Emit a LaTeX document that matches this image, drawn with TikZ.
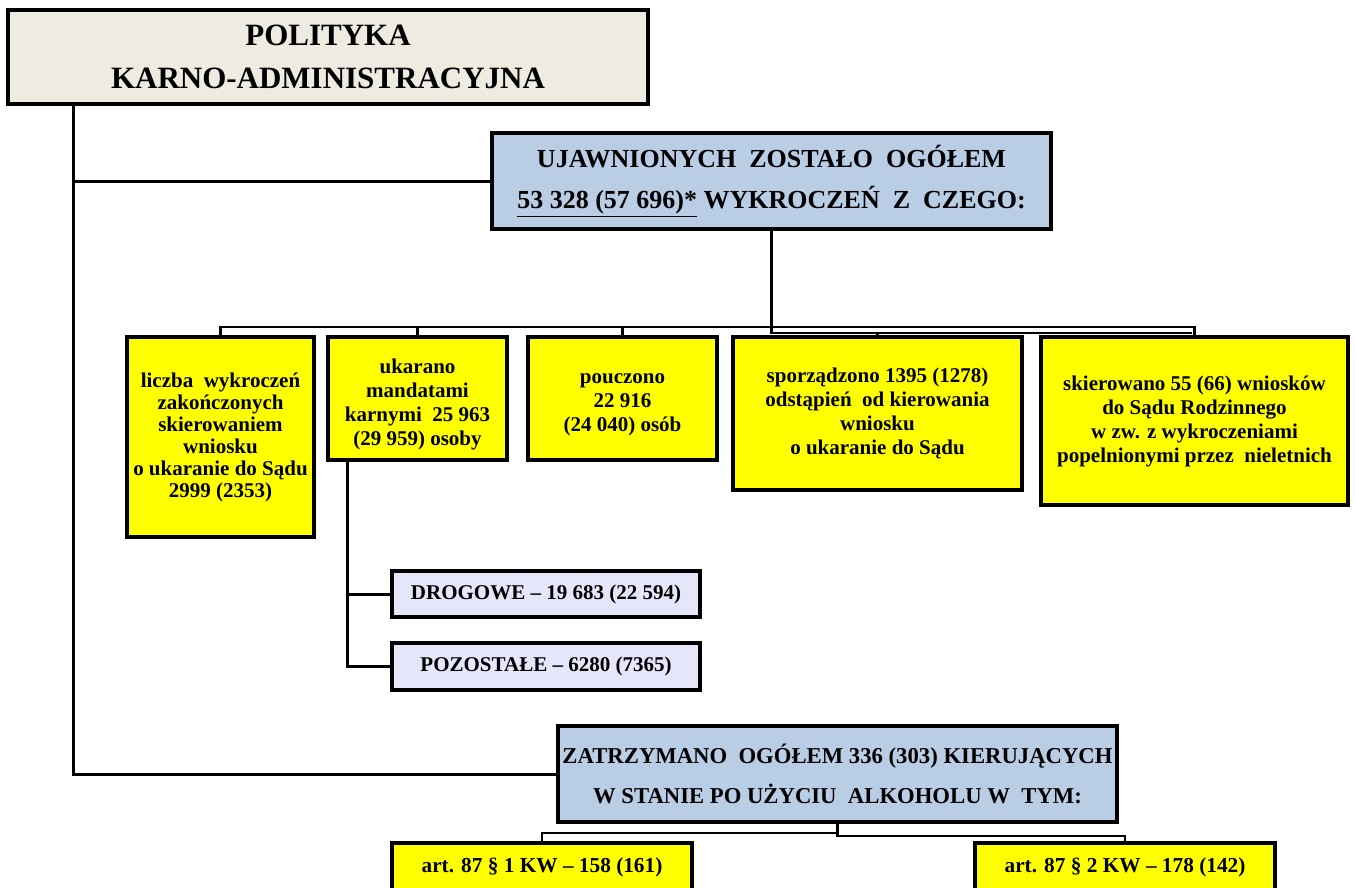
\documentclass[tikz,border=0pt]{standalone}
\usepackage{fontspec}
\setmainfont{Liberation Serif}
\definecolor{titlefill}{RGB}{238,236,225}
\definecolor{bluefill}{RGB}{185,205,229}
\definecolor{yelfill}{RGB}{255,255,0}
\definecolor{lavfill}{RGB}{230,230,250}
\tikzset{
  box/.style={draw=black, line width=3.2pt, inner sep=0pt, outer sep=0pt, align=center, font=\bfseries},
  titlebox/.style={box, fill=titlefill, line width=4pt},
  bluebox/.style={box, fill=bluefill},
  yelbox/.style={box, fill=yelfill},
  lavbox/.style={box, fill=lavfill},
  conn/.style={line width=3pt},
  busline/.style={line width=2.4pt},
}
\begin{document}
\begin{tikzpicture}[x=1pt,y=-1pt]
\useasboundingbox (0,0) rectangle (1355,888);
\fill[white] (0,0) rectangle (1355,888);
% coordinates for connectors
\coordinate (spine) at (73,0);
\coordinate (busA) at (0,327);
\coordinate (busB) at (0,333);
\coordinate (sub) at (347,0);
\coordinate (busC) at (0,833);
\coordinate (busD) at (0,836);

% boxes
\node[titlebox, minimum width=640pt, minimum height=94pt,
  font=\bfseries\fontsize{31}{43}\selectfont] (title) at (328,57)
  {POLITYKA\\KARNO-ADMINISTRACYJNA};
\node[bluebox, minimum width=559pt, minimum height=96pt,
  font=\bfseries\fontsize{26}{41}\selectfont] (u) at (771.5,181)
  {UJAWNIONYCH~ ZOSTAŁO~ OGÓŁEM\\\underline{53 328 (57 696)*}~WYKROCZEŃ~ Z~ CZEGO:};
\node[yelbox, minimum width=187pt, minimum height=200pt,
  font=\bfseries\fontsize{21}{22}\selectfont] (c1) at (220.5,437)
  {liczba~ wykroczeń\\zakończonych\\skierowaniem\\wniosku\\o ukaranie do Sądu\\2999 (2353)};
\node[yelbox, minimum width=179pt, minimum height=123pt,
  font=\bfseries\fontsize{21}{24}\selectfont] (c2) at (417.5,398.5)
  {\rule{0pt}{26pt}ukarano\\mandatami\\karnymi~ 25 963\\(29 959) osoby};
\node[yelbox, minimum width=189pt, minimum height=123pt,
  font=\bfseries\fontsize{21}{24}\selectfont] (c3) at (622.5,398.5)
  {\rule{0pt}{22pt}pouczono\\22 916\\(24 040) osób};
\node[yelbox, minimum width=289pt, minimum height=153pt,
  font=\bfseries\fontsize{21}{24}\selectfont] (c4) at (877.5,413.5)
  {sporządzono 1395 (1278)\\odstąpień~ od kierowania\\wniosku\\o ukaranie do Sądu};
\node[yelbox, minimum width=307pt, minimum height=168pt,
  font=\bfseries\fontsize{21}{24}\selectfont] (c5) at (1194.5,421)
  {skierowano 55 (66) wniosków\\do Sądu Rodzinnego\\w zw. z wykroczeniami\\popelnionymi przez~ nieletnich};
\node[lavbox, minimum width=308pt, minimum height=46pt,
  font=\bfseries\fontsize{21}{24}\selectfont] (d1) at (546,594)
  {DROGOWE – 19 683 (22 594)};
\node[lavbox, minimum width=308pt, minimum height=47pt,
  font=\bfseries\fontsize{21}{24}\selectfont] (d2) at (546,666.5)
  {POZOSTAŁE – 6280 (7365)};
\node[bluebox, minimum width=559pt, minimum height=96pt,
  font=\bfseries\fontsize{22.7}{40}\selectfont] (z) at (837.5,774)
  {ZATRZYMANO~ OGÓŁEM 336 (303) KIERUJĄCYCH\\W STANIE PO UŻYCIU~ ALKOHOLU W~ TYM:};
\node[yelbox, minimum width=300pt, minimum height=48pt,
  font=\bfseries\fontsize{21.3}{24}\selectfont] (b1) at (542,867)
  {art. 87 § 1 KW – 158 (161)};
\node[yelbox, minimum width=300pt, minimum height=48pt,
  font=\bfseries\fontsize{21.3}{24}\selectfont] (b2) at (1125,867)
  {art. 87 § 2 KW – 178 (142)};

% connectors
\draw[conn] (title.south -| spine) |- (z.west);
\draw[conn] (spine |- u.west) -- (u.west);
\draw[conn] (u.south) -- (u.south |- busA);
\draw[busline] (u.south |- busA) -| (c1.north);
\draw[busline] (u.south |- busA) -| (c2.north);
\draw[busline] (u.south |- busA) -| (c3.north);
\draw[busline] (u.south |- busA) -| (c5.north);
\draw[busline] (u.south) -- (u.south |- busB) -| (c4.north);
\draw[busline] (u.south |- busB) -- ([xshift=-3pt]c5.north |- busB);
\draw[conn] (c2.south -| sub) |- (d1.west);
\draw[conn] (c2.south -| sub) |- (d2.west);
\draw[busline] (z.south) -- (z.south |- busC) -| (b1.north);
\draw[busline] (z.south) -- (z.south |- busD) -| (b2.north);
\end{tikzpicture}
\end{document}
